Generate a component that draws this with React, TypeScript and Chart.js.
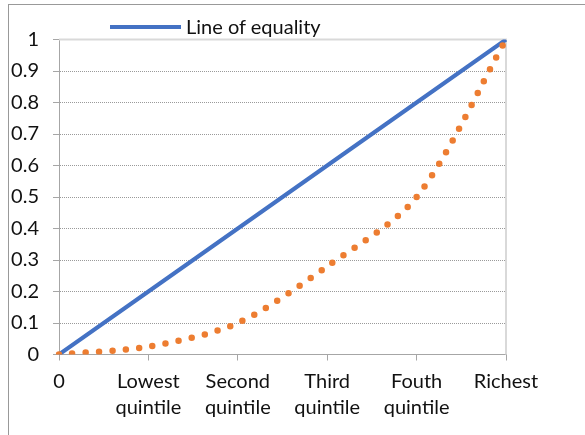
import React, { useEffect, useRef } from "react";
import { Chart, registerables } from "chart.js";

Chart.register(...registerables);

// ---- data ----
const categories: (string | string[])[] = [
  "0",
  ["Lowest", "quintile"],
  ["Second", "quintile"],
  ["Third", "quintile"],
  ["Fouth", "quintile"],
  "Richest",
];
const equalityValues = [0, 0.2, 0.4, 0.6, 0.8, 1];
const lorenzValues = [0, 0.025, 0.1, 0.28, 0.5, 1];
const legendLabel = "Line of equality";
const yMin = 0;
const yMax = 1;
const yStep = 0.1;

const FONT_FAMILY = "Lato, 'Open Sans', 'DejaVu Sans', sans-serif";
const TEXT_COLOR = "#111111";
const AXIS_COLOR = "#a6a6a6";
const BLUE = "#4472C4";
const ORANGE = "#ED7D31";

export default function App() {
  const canvasRef = useRef<HTMLCanvasElement>(null);

  useEffect(() => {
    const plotFrame = {
      id: "plotFrame",
      beforeDatasetsDraw(chart: any) {
        const { ctx, chartArea: a } = chart;
        ctx.save();
        ctx.strokeStyle = "#d9d9d9";
        ctx.lineWidth = 2;
        ctx.beginPath();
        ctx.moveTo(a.left, a.top);
        ctx.lineTo(a.right, a.top);
        ctx.lineTo(a.right, a.bottom);
        ctx.stroke();
        ctx.restore();
      },
    };

    const chart = new Chart(canvasRef.current!, {
      type: "line",
      data: {
        labels: categories as any,
        datasets: [
          {
            label: "Lorenz curve",
            data: lorenzValues,
            borderColor: ORANGE,
            borderWidth: 6.5,
            borderDash: [0, 13.4],
            borderCapStyle: "round",
            pointRadius: 0,
            tension: 0.3,
            fill: false,
          },
          {
            label: legendLabel,
            data: equalityValues,
            borderColor: BLUE,
            borderWidth: 4,
            pointRadius: 0,
            tension: 0,
            fill: false,
          },
        ],
      },
      options: {
        animation: false,
        responsive: false,
        maintainAspectRatio: false,
        layout: { padding: { left: 0, right: 79, top: 39.5, bottom: 0 } },
        plugins: {
          legend: { display: false },
          tooltip: { enabled: false },
        },
        scales: {
          x: {
            offset: false,
            afterFit: (s: any) => {
              s.height = 80.5;
            },
            grid: {
              drawOnChartArea: false,
              tickLength: 6,
              tickColor: AXIS_COLOR,
            },
            border: { color: AXIS_COLOR, width: 1 },
            ticks: {
              color: TEXT_COLOR,
              font: { family: FONT_FAMILY, size: 20, lineHeight: 1.3 },
              padding: 8,
              maxRotation: 0,
              autoSkip: false,
            },
          },
          y: {
            min: yMin,
            max: yMax,
            afterFit: (s: any) => {
              s.width = 59;
            },
            ticks: {
              stepSize: yStep,
              color: TEXT_COLOR,
              font: { family: FONT_FAMILY, size: 20 },
              padding: 14,
              callback: (v: any) => String(Math.round(Number(v) * 10) / 10),
            },
            grid: {
              color: (ctx: any) => {
                const v = ctx.tick ? ctx.tick.value : null;
                if (v === null) return AXIS_COLOR;
                if (Math.abs(v - yMin) < 1e-9 || Math.abs(v - yMax) < 1e-9) return "rgba(0,0,0,0)";
                return "#9a9a9a";
              },
              tickLength: 6,
              tickColor: AXIS_COLOR,
              tickBorderDash: [],
            },
            border: { color: AXIS_COLOR, width: 1, dash: [1, 1] },
          },
        },
      },
      plugins: [plotFrame],
    } as any);

    return () => chart.destroy();
  }, []);

  return (
    <div
      style={{
        position: "fixed",
        left: 0,
        top: 0,
        width: 585,
        height: 435,
        overflow: "hidden",
        background: "#fff",
      }}
    >
      <div
        style={{
          position: "absolute",
          left: 8,
          top: 4,
          width: 700,
          height: 600,
          borderTop: "1px solid #999",
          borderLeft: "1px solid #999",
        }}
      />
      <canvas
        ref={canvasRef}
        width={585}
        height={435}
        style={{ position: "absolute", left: 0, top: 0, width: 585, height: 435 }}
      />
      <div
        style={{
          position: "absolute",
          left: 110,
          top: 25,
          width: 71,
          height: 4,
          background: BLUE,
        }}
      />
      <div
        style={{
          position: "absolute",
          left: 186,
          top: 16,
          fontFamily: FONT_FAMILY,
          fontSize: 20,
          lineHeight: "20px",
          color: TEXT_COLOR,
          whiteSpace: "nowrap",
        }}
      >
        {legendLabel}
      </div>
    </div>
  );
}
